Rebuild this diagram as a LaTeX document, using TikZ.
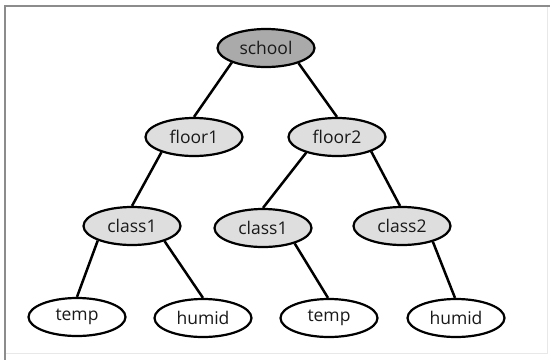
\documentclass[tikz,border=0pt]{standalone}
\usepackage{fontspec}
\setmainfont{Open Sans}
\usetikzlibrary{shapes.geometric}
\definecolor{rootfill}{RGB}{170,170,170}
\definecolor{midfill}{RGB}{222,222,222}
\definecolor{framegray}{RGB}{140,140,140}
\definecolor{faintgray}{RGB}{232,232,232}
\definecolor{txt}{RGB}{25,25,25}
\begin{document}
\begin{tikzpicture}[x=1pt,y=-1pt,
  treenode/.style={ellipse,draw=black,line width=2.2pt,minimum width=97pt,minimum height=38pt,inner sep=0pt,
    text=txt,font=\fontsize{17.5}{20}\selectfont},
  rootnode/.style={treenode,fill=rootfill},
  midnode/.style={treenode,fill=midfill},
  leafnode/.style={treenode,fill=white},
  edge/.style={line width=2.5pt,black}]
\useasboundingbox (0,0) rectangle (550,360);
\fill[white] (0,0) rectangle (550,360);
\draw[faintgray,line width=1pt] (547,6) -- (547,353) -- (5,353);
\draw[framegray,line width=1.5pt] (5,360) -- (5,6) -- (550,6);

\node[rootnode] (school) at (266,48) {school};
\node[midnode] (floor1) at (194,137) {floor1};
\node[midnode] (floor2) at (337,137) {floor2};
\node[midnode] (c1a) at (132,226) {class1};
\node[midnode] (c1b) at (263,228) {class1};
\node[midnode] (c2) at (402,226) {class2};
\node[leafnode] (t1) at (77,317) {temp};
\node[leafnode] (h1) at (203,318) {humid};
\node[leafnode] (t2) at (329,318) {temp};
\node[leafnode] (h2) at (456,318) {humid};

\draw[edge] (school.203) -- (floor1.north);
\draw[edge] (school.335) -- (floor2.north);
\draw[edge] (floor1.205) -- (c1a.north);
\draw[edge] (floor2.207) -- (c1b.north);
\draw[edge] (floor2.337) -- ([xshift=-2pt]c2.north);
\draw[edge] (c1a.203) -- (t1.north);
\draw[edge] (c1a.335) -- (h1.north);
\draw[edge] (c1b.334) -- ([xshift=-1pt]t2.north);
\draw[edge] (c2.333) -- ([xshift=-1pt]h2.north);
\end{tikzpicture}
\end{document}
